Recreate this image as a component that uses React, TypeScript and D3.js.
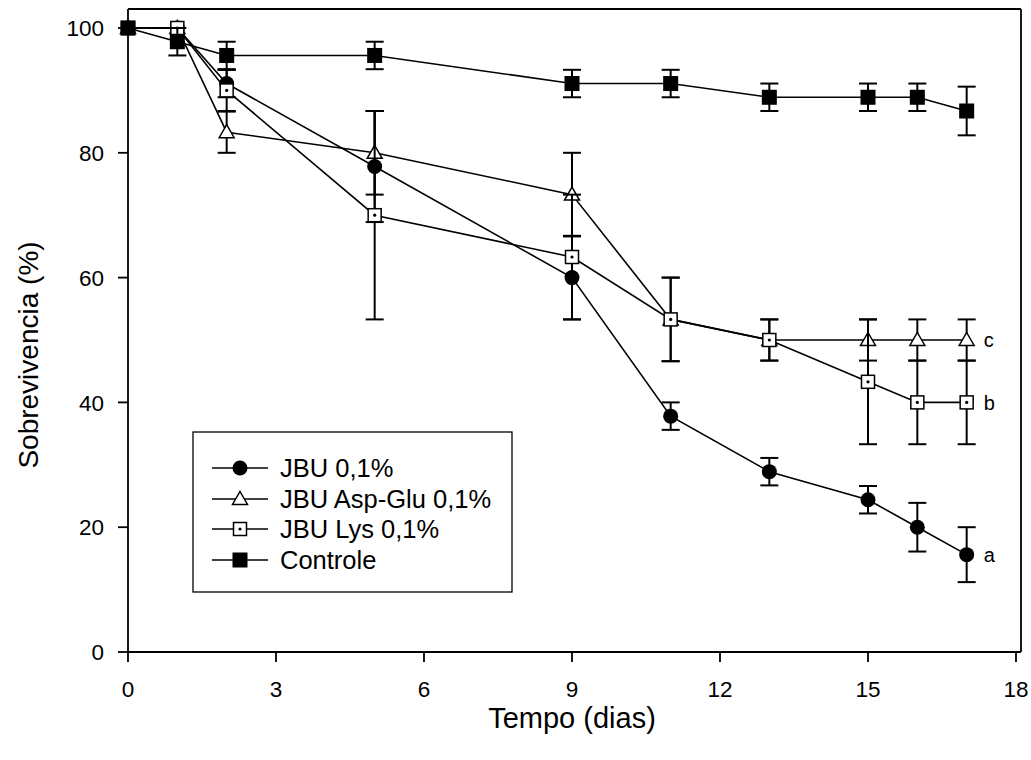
import React from 'react'
import * as d3 from 'd3'

const days = [0, 1, 2, 5, 9, 11, 13, 15, 16, 17]

const jbuValues = [100, 100, 91.1, 77.8, 60, 37.8, 28.9, 24.4, 20, 15.6]
const jbuErrors = [0, 0, 2.2, 8.9, 6.7, 2.2, 2.2, 2.2, 3.9, 4.4]

const aspGluValues = [100, 100, 83.3, 80, 73.3, 53.3, 50, 50, 50, 50]
const aspGluErrors = [0, 0, 3.3, 6.7, 6.7, 6.7, 3.3, 3.3, 3.3, 3.3]

const lysValues = [100, 100, 90, 70, 63.3, 53.3, 50, 43.3, 40, 40]
const lysErrors = [0, 0, 3.3, 16.7, 10, 6.7, 3.3, 10, 6.7, 6.7]

const controleValues = [100, 97.8, 95.6, 95.6, 91.1, 91.1, 88.9, 88.9, 88.9, 86.7]
const controleErrors = [0, 2.2, 2.2, 2.2, 2.2, 2.2, 2.2, 2.2, 2.2, 3.9]

const xTicks = [0, 3, 6, 9, 12, 15, 18]
const yTicks = [0, 20, 40, 60, 80, 100]

const seriesNames = ['JBU 0,1%', 'JBU Asp-Glu 0,1%', 'JBU Lys 0,1%', 'Controle']
const letters = [
  { label: 'a', value: 15.6 },
  { label: 'c', value: 50 },
  { label: 'b', value: 40 },
]

const FONT = 'Arial, "Liberation Sans", sans-serif'

type Series = { name: string, values: number[], errors: number[], symbol: string }

const series: Series[] = [
  { name: seriesNames[0], values: jbuValues, errors: jbuErrors, symbol: 'circle' },
  { name: seriesNames[1], values: aspGluValues, errors: aspGluErrors, symbol: 'triangle' },
  { name: seriesNames[2], values: lysValues, errors: lysErrors, symbol: 'dotsquare' },
  { name: seriesNames[3], values: controleValues, errors: controleErrors, symbol: 'square' },
]

function Marker({ symbol, cx, cy }: { symbol: string, cx: number, cy: number }) {
  if (symbol === 'circle') {
    return <circle cx={cx} cy={cy} r={7.5} fill="#000" />
  }
  if (symbol === 'square') {
    return <rect x={cx - 7.5} y={cy - 7.5} width={15} height={15} fill="#000" />
  }
  if (symbol === 'dotsquare') {
    return (
      <g>
        <rect x={cx - 6.5} y={cy - 6.5} width={13} height={13} fill="#fff" stroke="#000" strokeWidth={1.5} />
        <circle cx={cx} cy={cy} r={1.6} fill="#000" />
      </g>
    )
  }
  // open triangle
  const p = `M${cx},${cy - 7.5}L${cx + 7.5},${cy + 5.5}L${cx - 7.5},${cy + 5.5}Z`
  return <path d={p} fill="#fff" stroke="#000" strokeWidth={1.5} />
}

export default function App() {
  const width = 1031
  const height = 760
  const x = d3.scaleLinear().domain([0, 18]).range([128, 1016])
  const y = d3.scaleLinear().domain([0, 100]).range([652, 28])
  const frameTop = 9
  const frameRight = 1021
  const capHalf = 9

  const lineGen = d3.line<number>()
    .x((_, i) => x(days[i]))
    .y(d => y(d))

  const legendX = 193
  const legendY = 432
  const legendRows = [468, 499, 529, 560]

  return (
    <svg width={width} height={height} style={{ position: 'absolute', left: 0, top: 0, background: '#fff' }}
      fontFamily={FONT}>
      <rect x={0} y={0} width={width} height={height} fill="#fff" />

      {/* frame */}
      <line x1={x(0)} x2={x(0)} y1={frameTop} y2={y(0)} stroke="#000" strokeWidth={1.8} />
      <line x1={x(0)} x2={frameRight} y1={frameTop} y2={frameTop} stroke="#000" strokeWidth={1.8} />
      <line x1={frameRight} x2={frameRight} y1={frameTop} y2={y(0)} stroke="#000" strokeWidth={1.8} />
      <line x1={x(0)} x2={frameRight} y1={y(0)} y2={y(0)} stroke="#000" strokeWidth={1.8} />

      {/* y axis */}
      {yTicks.map(t => (
        <g key={'y' + t}>
          <line x1={x(0) - 10} x2={x(0)} y1={y(t)} y2={y(t)} stroke="#000" strokeWidth={1.8} />
          <text x={104} y={y(t)} dy="0.36em" textAnchor="end" fontSize={22.5}>{t}</text>
        </g>
      ))}
      {/* x axis */}
      {xTicks.map(t => (
        <g key={'x' + t}>
          <line x1={x(t)} x2={x(t)} y1={y(0)} y2={y(0) + 10} stroke="#000" strokeWidth={1.8} />
          <text x={x(t)} y={689} dy="0.36em" textAnchor="middle" fontSize={22.5}>{t}</text>
        </g>
      ))}

      <text x={572} y={718} dy="0.36em" textAnchor="middle" fontSize={29}>Tempo (dias)</text>
      <text transform={`translate(28,355) rotate(-90)`} dy="0.36em" textAnchor="middle" fontSize={28}>
        Sobrevivencia (%)
      </text>

      {/* series */}
      {series.map(s => (
        <g key={s.name}>
          <path d={lineGen(s.values) || ''} fill="none" stroke="#000" strokeWidth={1.6} />
          {s.values.map((v, i) => s.errors[i] > 0 ? (
            <g key={'e' + i}>
              <line x1={x(days[i])} x2={x(days[i])} y1={y(v + s.errors[i])} y2={y(v - s.errors[i])}
                stroke="#000" strokeWidth={2} />
              <line x1={x(days[i]) - capHalf} x2={x(days[i]) + capHalf}
                y1={y(v + s.errors[i])} y2={y(v + s.errors[i])} stroke="#000" strokeWidth={2} />
              <line x1={x(days[i]) - capHalf} x2={x(days[i]) + capHalf}
                y1={y(v - s.errors[i])} y2={y(v - s.errors[i])} stroke="#000" strokeWidth={2} />
            </g>
          ) : null)}
          {s.values.map((v, i) => (
            <Marker key={'m' + i} symbol={s.symbol} cx={x(days[i])} cy={y(v)} />
          ))}
        </g>
      ))}

      {/* significance letters */}
      {letters.map(l => (
        <text key={l.label} x={x(17) + 17} y={y(l.value)} dy="0.36em" fontSize={20}>{l.label}</text>
      ))}

      {/* legend */}
      <rect x={legendX} y={legendY} width={319} height={160} fill="#fff" stroke="#000" strokeWidth={1.3} />
      {series.map((s, i) => (
        <g key={'lg' + i}>
          <line x1={212} x2={268} y1={legendRows[i]} y2={legendRows[i]} stroke="#000" strokeWidth={1.6} />
          <Marker symbol={s.symbol} cx={240} cy={legendRows[i]} />
          <text x={280} y={legendRows[i]} dy="0.36em" fontSize={25.5}>{s.name}</text>
        </g>
      ))}
    </svg>
  )
}
